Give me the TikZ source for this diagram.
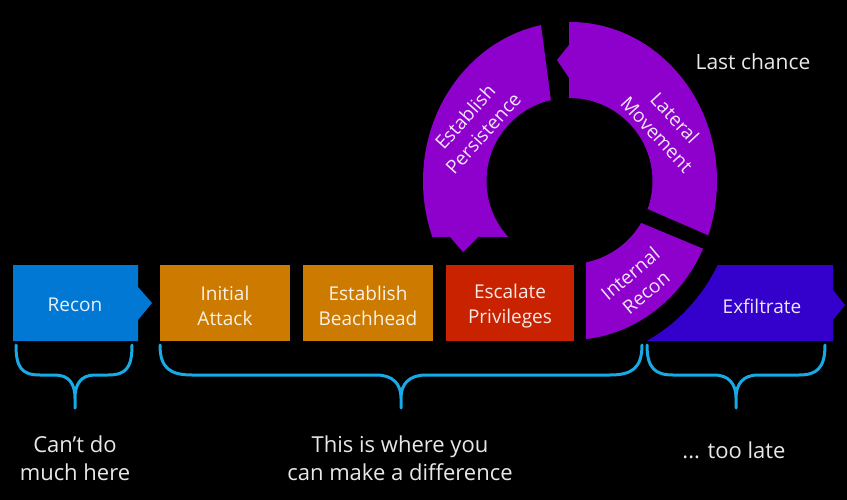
\documentclass[tikz,border=0pt]{standalone}
\usepackage{fontspec}
\setmainfont{Open Sans}
\definecolor{reconblue}{RGB}{0,120,212}
\definecolor{stageorange}{RGB}{204,122,0}
\definecolor{stagered}{RGB}{200,34,0}
\definecolor{ringpurple}{RGB}{142,0,204}
\definecolor{exfilblue}{RGB}{52,0,204}
\definecolor{bracecyan}{RGB}{24,170,230}
\definecolor{labelgray}{RGB}{232,232,232}
\tikzset{
  stagebox/.style={minimum width=130pt, minimum height=76pt, inner sep=0pt},
  stagetext/.style={text=white, text opacity=0.9, align=center, inner sep=0pt,
    font=\fontsize{19}{24.5}\selectfont},
  bottomtext/.style={text=labelgray, align=center, inner sep=0pt,
    font=\fontsize{22}{27.5}\selectfont},
  bracepath/.style={draw=bracecyan, line width=3pt, line cap=round, line join=round}
}
\begin{document}
\begin{tikzpicture}[x=1pt,y=-1pt]
\fill[black] (0,0) rectangle (847,500);
\useasboundingbox (0,0) rectangle (847,500);

% Recon chevron
\fill[reconblue] (13,265) -- (138,265) -- (138,287) -- (152,303) -- (138,320) -- (138,341) -- (13,341) -- cycle;
\node[stagetext] (recon) at (75,305) {Recon};

% Boxes
\node[stagebox, fill=stageorange] (ia) at (225,303) {};
\node[stagetext] (iat) at ([yshift=-3pt]ia.center) {Initial\\Attack};
\node[stagebox, fill=stageorange] (eb) at (368,303) {};
\node[stagetext] (ebt) at ([yshift=-3pt]eb.center) {Establish\\Beachhead};
\node[stagebox, fill=stagered, minimum width=128pt] (ep) at (510,303) {};
\node[stagetext] (ept) at ([yshift=-3pt]ep.center) {Escalate\\Privileges};

% Exfiltrate
\begin{scope}[even odd rule]
\clip (0,0) rectangle (847,500) (570,181) ellipse[x radius=167pt, y radius=180pt];
\fill[exfilblue] (600,265) -- (833,265) -- (833,290) -- (845,305) -- (833,320) -- (833,341) -- (600,341) -- cycle;
\end{scope}
\node[stagetext] (exf) at (762,306) {Exfiltrate};

% Ring: Establish Persistence
\begin{scope}
\clip (537.7,0) -- (569,237) -- (478,237) -- (463,252) -- (450,237) -- (400,237) -- (400,0) -- cycle;
\fill[ringpurple, even odd rule] (570,181) ellipse[x radius=147pt, y radius=159pt] (569.5,181) circle[radius=83pt];
\end{scope}
% Lateral Movement
\begin{scope}
\clip (569,0) -- (569,45) -- (557,60) -- (569,78) -- (569,175) -- (800,275) -- (800,0) -- cycle;
\fill[ringpurple, even odd rule] (570,181) ellipse[x radius=147pt, y radius=159pt] (569.5,181) circle[radius=83pt];
\end{scope}
% Internal Recon
\begin{scope}
\clip (586,200) -- (800,289) -- (800,400) -- (586,400) -- cycle;
\fill[ringpurple, even odd rule] (570,181) ellipse[x radius=147pt, y radius=159pt] (569.5,181) circle[radius=83pt];
\end{scope}

\node[stagetext, rotate=48] (persist) at (474,125) {Establish\\Persistence};
\node[stagetext, rotate=-47] (lateral) at (666,126) {Lateral\\Movement};
\node[stagetext, rotate=40] (irecon) at (638,283) {Internal\\Recon};

\node[bottomtext, font=\fontsize{21}{26}\selectfont] (last) at (753,62) {Last chance};

% Braces
\path[bracepath] (16,345) .. controls (16,368) and (22,375) .. (40,375) -- (55,375) .. controls (69,375) and (75,384) .. (75,398) -- (75,408)
  (75,398) .. controls (75,384) and (81,375) .. (95,375) -- (108,375) .. controls (126,375) and (132,368) .. (132,345);
\path[bracepath] (160,345) .. controls (160,368) and (170,375) .. (192,375) -- (376,375) .. controls (393,375) and (401,384) .. (401,398) -- (401,408)
  (401,398) .. controls (401,384) and (409,375) .. (426,375) -- (610,375) .. controls (632,375) and (642,368) .. (642,345);
\path[bracepath] (647,345) .. controls (647,368) and (655,375) .. (673,375) -- (714,375) .. controls (729,375) and (736,384) .. (736,398) -- (736,408)
  (736,398) .. controls (736,384) and (743,375) .. (758,375) -- (799,375) .. controls (817,375) and (825,368) .. (825,345);

\node[bottomtext] (cant) at (75,458) {Can’t do\\much here};
\node[bottomtext] (where) at (400,458) {This is where you\\can make a difference};
\node[bottomtext] (late) at (734,450) {... too late};
\end{tikzpicture}
\end{document}
